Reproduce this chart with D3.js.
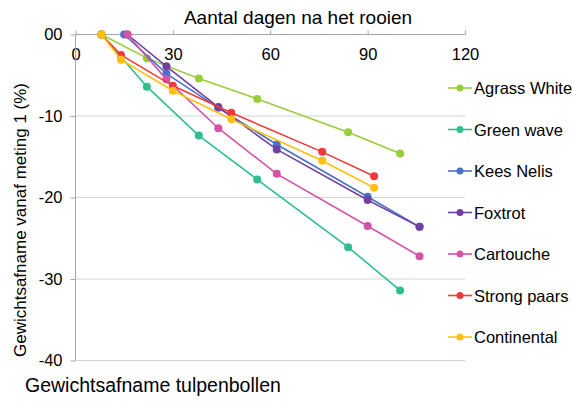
<!DOCTYPE html>
<html>
<head>
<meta charset="utf-8">
<script src="https://cdn.jsdelivr.net/npm/d3@7"></script>
<style>
  body { margin: 0; background: #fff; }
  text { font-family: "Liberation Sans", Arial, sans-serif; fill: #000; }
</style>
</head>
<body>
<svg id="chart" width="572" height="401"></svg>
<script>
// dagen na het rooien per groep metingen
const daysA = [8, 22, 38, 56, 84, 100];
const daysB = [8, 14, 30, 48, 76, 92];
const daysKees = [15, 28, 44, 62, 90, 106];
const daysC = [16, 28, 44, 62, 90, 106];

// gewichtsafname (%)
const agrassWhite = [0, -2.9, -5.4, -7.9, -12.0, -14.6];
const greenWave = [0, -6.4, -12.4, -17.8, -26.1, -31.4];
const keesNelis = [0, -4.8, -9.0, -13.5, -19.9, -23.6];
const foxtrot = [0, -3.9, -8.9, -14.1, -20.3, -23.6];
const cartouche = [0, -5.5, -11.5, -17.1, -23.5, -27.2];
const strongPaars = [0, -2.5, -6.3, -9.6, -14.4, -17.4];
const continental = [0, -3.1, -6.9, -10.4, -15.5, -18.8];

const seriesNames = ["Agrass White", "Green wave", "Kees Nelis", "Foxtrot", "Cartouche", "Strong paars", "Continental"];
const xTicks = [0, 30, 60, 90, 120];
const yTicks = [0, -10, -20, -30, -40];
const yTickLabels = ["00", "-10", "-20", "-30", "-40"];

const series = [
  { name: seriesNames[0], days: daysA, vals: agrassWhite, color: "#9ACD3C" },
  { name: seriesNames[1], days: daysA, vals: greenWave, color: "#2FBE8E" },
  { name: seriesNames[2], days: daysKees, vals: keesNelis, color: "#4A72C4" },
  { name: seriesNames[3], days: daysC, vals: foxtrot, color: "#7240A2" },
  { name: seriesNames[4], days: daysC, vals: cartouche, color: "#D452A8" },
  { name: seriesNames[5], days: daysB, vals: strongPaars, color: "#EE3B3B" },
  { name: seriesNames[6], days: daysB, vals: continental, color: "#FFC010" }
];

const svg = d3.select("#chart");

const x = d3.scaleLinear().domain([0, 120]).range([75.5, 465]);
const y = d3.scaleLinear().domain([0, -40]).range([34.5, 360.5]);

// rasterlijnen
svg.append("g")
  .selectAll("line")
  .data(yTicks.slice(1))
  .enter()
  .append("line")
  .attr("x1", x(0)).attr("x2", x(120))
  .attr("y1", d => y(d)).attr("y2", d => y(d))
  .attr("stroke", "#a6a6a6")
  .attr("stroke-width", 1)
  .attr("stroke-dasharray", "1,1");

// x-as bovenaan, streepjes omhoog, labels eronder
const xAxis = svg.append("g")
  .attr("transform", `translate(0,${y(0)})`)
  .call(d3.axisTop(x).tickValues(xTicks).tickSize(4).tickFormat(d3.format("d")));
xAxis.select(".domain").attr("stroke", "#a6a6a6").attr("d", `M${x(0)},0H${x(120)}`);
xAxis.selectAll(".tick line").attr("stroke", "#a6a6a6");
xAxis.selectAll(".tick text")
  .attr("y", 25)
  .attr("dy", 0)
  .attr("font-size", 16.5)
  .attr("font-family", "Liberation Sans, Arial, sans-serif");

// y-as
const yAxis = svg.append("g")
  .attr("transform", `translate(${x(0)},0)`)
  .call(d3.axisLeft(y).tickValues(yTicks).tickSize(5).tickFormat((d, i) => yTickLabels[i]));
yAxis.select(".domain").attr("stroke", "#a6a6a6").attr("d", `M0,${y(0)}V${y(-40)}`);
yAxis.selectAll(".tick line").attr("stroke", "#a6a6a6");
yAxis.selectAll(".tick text")
  .attr("x", -13)
  .attr("font-size", 16.5)
  .attr("font-family", "Liberation Sans, Arial, sans-serif");

// lijnen en punten
const line = d3.line().x(d => x(d[0])).y(d => y(d[1]));

series.forEach(s => {
  const pts = s.days.map((d, i) => [d, s.vals[i]]);
  const g = svg.append("g");
  g.append("path")
    .datum(pts)
    .attr("d", line)
    .attr("fill", "none")
    .attr("stroke", s.color)
    .attr("stroke-width", 1.6);
  g.selectAll("circle")
    .data(pts)
    .enter()
    .append("circle")
    .attr("cx", d => x(d[0]))
    .attr("cy", d => y(d[1]))
    .attr("r", 4)
    .attr("fill", s.color);
});

// legenda
const legend = svg.append("g");
series.forEach((s, i) => {
  const ly = 88 + i * 41.5;
  legend.append("line")
    .attr("x1", 448).attr("x2", 472)
    .attr("y1", ly).attr("y2", ly)
    .attr("stroke", s.color).attr("stroke-width", 1.6);
  legend.append("circle")
    .attr("cx", 460).attr("cy", ly).attr("r", 3.5)
    .attr("fill", s.color);
  legend.append("text")
    .attr("x", 474).attr("y", ly + 6)
    .attr("font-size", 16.5)
    .text(s.name);
});

// titels
svg.append("text")
  .attr("x", 298).attr("y", 24)
  .attr("text-anchor", "middle")
  .attr("font-size", 19)
  .text("Aantal dagen na het rooien");

svg.append("text")
  .attr("transform", "translate(26,220) rotate(-90)")
  .attr("text-anchor", "middle")
  .attr("font-size", 17)
  .text("Gewichtsafname vanaf meting 1 (%)");

svg.append("text")
  .attr("x", 25).attr("y", 392)
  .attr("font-size", 19.5)
  .text("Gewichtsafname tulpenbollen");
</script>
</body>
</html>
